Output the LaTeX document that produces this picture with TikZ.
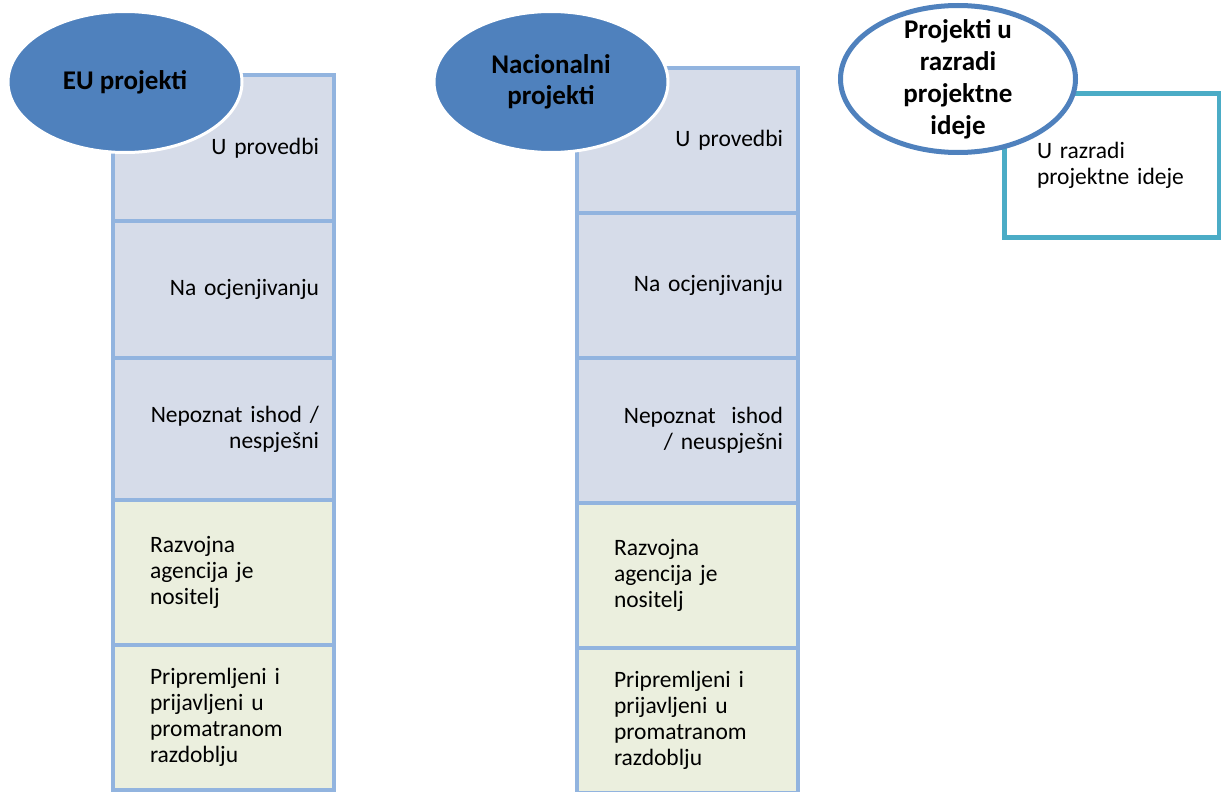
\documentclass[tikz,border=0pt]{standalone}
\usepackage{fontspec}
\setmainfont{Carlito}
\usetikzlibrary{positioning, shapes.geometric}

\definecolor{cellblue}{RGB}{214,220,233}
\definecolor{cellgreen}{RGB}{235,239,222}
\definecolor{edgeblue}{RGB}{146,180,223}
\definecolor{ovalblue}{RGB}{79,129,189}
\definecolor{ideateal}{RGB}{75,172,198}

\begin{document}
\begin{tikzpicture}[x=1pt,y=-1pt,node distance=0pt,
  cell/.style={rectangle, draw=edgeblue, line width=4pt, outer sep=0pt,
    minimum width=221pt, minimum height=145pt,
    font=\fontsize{23.5}{26}\selectfont},
  status/.style={cell, fill=cellblue, align=right, text width=191pt, inner xsep=15pt},
  holder/.style={cell, fill=cellgreen, align=left, text width=147pt, inner xsep=37pt},
  group/.style={ellipse, fill=ovalblue, draw=white, line width=3pt, inner sep=0pt,
    minimum width=234pt, minimum height=141pt, align=center,
    font=\bfseries\fontsize{27}{31}\selectfont}]

\useasboundingbox (0,0) rectangle (1221,792);

% EU column
  \node[status, anchor=north west, minimum height=146pt] (eu1) at (113,75) {U provedbi};
  \node[status, minimum height=137pt] (eu2) [below=of eu1] {Na ocjenjivanju};
  \node[status, minimum height=142pt] (eu3) [below=of eu2] {Nepoznat ishod /\\ nespješni};
  \node[holder] (eu4) [below=of eu3] {Razvojna\\ agencija je\\ nositelj};
  \node[holder] (eu5) [below=of eu4] {Pripremljeni i\\ prijavljeni u\\ promatranom\\ razdoblju};

% national column
  \node[status, anchor=north west] (nat1) at (577,68) {U provedbi};
  \node[status] (nat2) [below=of nat1] {Na ocjenjivanju};
  \node[status] (nat3) [below=of nat2] {Nepoznat~ ishod\\ / neuspješni};
  \node[holder] (nat4) [below=of nat3] {Razvojna\\ agencija je\\ nositelj};
  \node[holder] (nat5) [below=of nat4] {Pripremljeni i\\ prijavljeni u\\ promatranom\\ razdoblju};

% idea box
  \node[rectangle, draw=ideateal, line width=5pt, outer sep=0pt, anchor=north west,
    minimum width=215pt, minimum height=144pt, text width=149pt, inner xsep=33pt,
    align=left, font=\fontsize{23.5}{26}\selectfont] (idea1) at (1004,93)
    {U razradi\\ projektne ideje};

% the ovals
  \node[group] (eu) at (125,82) {EU projekti};
  \node[group] (nat) at (551,82) {Nacionalni\\ projekti};
  \node[group, fill=white, draw=ovalblue, line width=5pt, inner ysep=-14pt,
    minimum width=235pt, minimum height=147pt,
    font=\bfseries\fontsize{27}{32}\selectfont] (idea) at (958,79)
    {\raisebox{-3pt}{\parbox{150pt}{\centering Projekti u\\ razradi\\ projektne\\ ideje}}};

\end{tikzpicture}
\end{document}
